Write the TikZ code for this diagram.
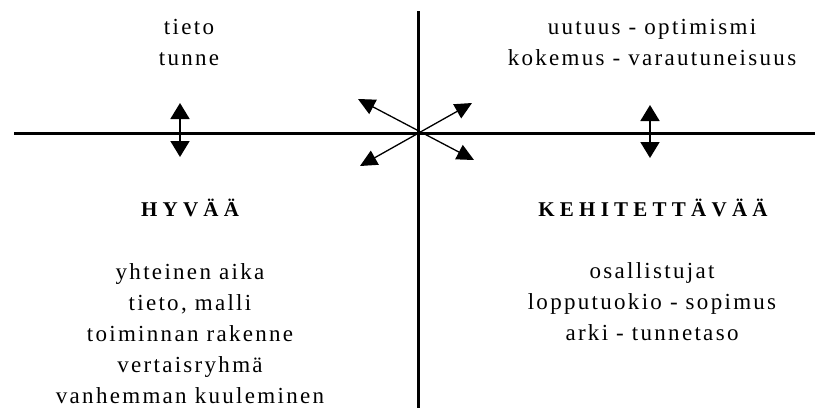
\documentclass[tikz,border=0pt]{standalone}
\usepackage{fontspec}
\setmainfont{Liberation Serif}
\usetikzlibrary{arrows.meta}

\begin{document}
\begin{tikzpicture}[
  x=1pt, y=-1pt,
  txt/.style={align=center, inner sep=0pt, anchor=base,
    font=\fontsize{23}{31}\selectfont\addfontfeatures{LetterSpace=10}},
  head/.style={inner sep=0pt, anchor=base,
    font=\fontsize{21}{24}\selectfont\bfseries\addfontfeatures{LetterSpace=25}},
  axis/.style={line width=3pt},
  arrow/.style={{Triangle[length=16pt,width=19pt]}-{Triangle[length=16pt,width=19pt]}, line width=1.8pt},
  diag/.style={{Triangle[length=17pt,width=16pt]}-{Triangle[length=17pt,width=16pt]}, line width=1.3pt}
]
\useasboundingbox (0,0) rectangle (815,408);

% axes
\coordinate (west) at (14,133);
\coordinate (east) at (815,133);
\coordinate (top) at (418,11);
\coordinate (bottom) at (418,408);
\draw[axis] (west) -- (east);
\draw[axis] (top) -- (bottom);

% texts (base = last line)
\node[txt] (tunne) at (189,65) {tieto\\tunne};
\node[txt] (uutuus) at (652,65) {uutuus - optimismi\\kokemus - varautuneisuus};
\node[head] (hyvaa) at (190,216) {HYVÄÄ};
\node[head] (kehit) at (653,216) {KEHITETTÄVÄÄ};
\node[txt] (hyvalist) at (190,403) {yhteinen aika\\tieto, malli\\toiminnan rakenne\\vertaisryhmä\\vanhemman kuuleminen};
\node[txt] (kehitlist) at (652,340) {osallistujat\\lopputuokio - sopimus\\arki - tunnetaso};

% arrows
\coordinate (lup) at (180,103);
\coordinate (ldown) at (180,157);
\coordinate (rup) at (650,105);
\coordinate (rdown) at (650,158);
\draw[arrow] (lup) -- (ldown);
\draw[arrow] (rup) -- (rdown);

\coordinate (nw) at (358,99);
\coordinate (se) at (474,160);
\coordinate (sw) at (360,166);
\coordinate (ne) at (472,103);
\draw[diag] (nw) -- (se);
\draw[diag] (sw) -- (ne);

\end{tikzpicture}
\end{document}
